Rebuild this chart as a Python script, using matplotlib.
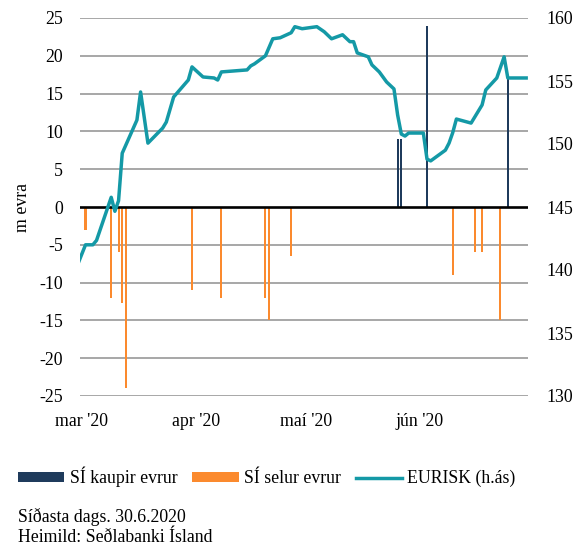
import matplotlib
matplotlib.use("Agg")
import matplotlib.pyplot as plt
import matplotlib.dates as mdates
import pandas as pd
from matplotlib.patches import Patch
from matplotlib.lines import Line2D

# ---- data ----
line_dates = ['2020-02-28', '2020-03-02', '2020-03-04', '2020-03-05', '2020-03-09', '2020-03-10',
              '2020-03-11', '2020-03-12', '2020-03-16', '2020-03-17', '2020-03-19', '2020-03-23',
              '2020-03-24', '2020-03-26', '2020-03-30', '2020-03-31', '2020-04-03', '2020-04-06',
              '2020-04-07', '2020-04-08', '2020-04-15', '2020-04-16', '2020-04-17', '2020-04-20',
              '2020-04-22', '2020-04-24', '2020-04-27', '2020-04-28', '2020-04-30', '2020-05-04',
              '2020-05-06', '2020-05-08', '2020-05-11', '2020-05-13', '2020-05-14', '2020-05-15',
              '2020-05-18', '2020-05-19', '2020-05-21', '2020-05-23', '2020-05-25', '2020-05-26',
              '2020-05-27', '2020-05-28', '2020-05-29', '2020-06-02', '2020-06-03', '2020-06-04',
              '2020-06-08', '2020-06-09', '2020-06-10', '2020-06-11', '2020-06-15', '2020-06-18',
              '2020-06-19', '2020-06-22', '2020-06-24', '2020-06-25', '2020-06-30']
eurisk = [139.8, 142.0, 142.0, 142.35, 145.77, 144.66,
          145.5, 149.27, 151.9, 154.13, 150.07, 151.26,
          151.74, 153.73, 155.08, 156.12, 155.32, 155.24,
          155.08, 155.72, 155.88, 156.2, 156.36, 157.0,
          158.35, 158.43, 158.83, 159.31, 159.15, 159.31,
          158.91, 158.35, 158.67, 158.12, 158.12, 157.23,
          156.92, 156.28, 155.72, 154.92, 154.37, 152.3,
          150.79, 150.63, 150.87, 150.87, 148.8, 148.66,
          149.51, 150.07, 150.9, 151.98, 151.66, 153.1,
          154.29, 155.24, 156.92, 155.24, 155.24]

buy_dates = ['2020-05-26', '2020-05-27', '2020-06-03', '2020-06-25']
buy_values = [9, 9, 24, 17]

sell_dates = ['2020-03-02', '2020-03-09', '2020-03-11', '2020-03-12', '2020-03-13', '2020-03-31',
              '2020-04-08', '2020-04-20', '2020-04-21', '2020-04-27', '2020-06-10', '2020-06-16',
              '2020-06-18', '2020-06-23']
sell_values = [-3, -12, -6, -12.7, -24, -11, -12, -12, -15, -6.5, -9, -6, -6, -15]

month_ticks = ['2020-03-01', '2020-04-01', '2020-05-01', '2020-06-01']
month_labels = ["mar '20", "apr '20", "maí '20", "jún '20"]

left_ticks = list(range(-25, 30, 5))
right_ticks = list(range(130, 165, 5))

legend_labels = ['SÍ kaupir evrur', 'SÍ selur evrur', 'EURISK (h.ás)']
footer_lines = ['Síðasta dags. 30.6.2020', 'Heimild: Seðlabanki Ísland']

# ---- style ----
FONT = 'Liberation Serif'
FS = 12.8
C_BUY = '#1F3B5C'
C_SELL = '#FB8A2E'
C_LINE = '#1499A6'
C_GRID = '#A0A0A0'

plt.rcParams['font.family'] = [FONT, 'DejaVu Serif']
plt.rcParams['font.size'] = FS

W, H = 586, 548
fig = plt.figure(figsize=(W / 100, H / 100), dpi=100)
L, R, T, B = 80, 528, 18, 396
ax = fig.add_axes([L / W, 1 - B / H, (R - L) / W, (B - T) / H])

ld = pd.to_datetime(line_dates)
bd = pd.to_datetime(buy_dates)
sd = pd.to_datetime(sell_dates)

ax.set_ylim(-25, 25)
ax.set_yticks(left_ticks)
for v in left_ticks:
    if v != 0:
        ax.axhline(v, color=C_GRID, lw=1.3, zorder=0)

ax.bar(bd, buy_values, width=0.55, color=C_BUY, zorder=2)
ax.bar(sd, sell_values, width=0.55, color=C_SELL, zorder=2)
ax.axhline(0, color='black', lw=1.9, zorder=3)

x0 = pd.Timestamp('2020-02-29 12:00')
x1 = pd.Timestamp('2020-06-30 12:00')
ax.set_xlim(x0, x1)
ax.set_xticks(pd.to_datetime(month_ticks))
ax.set_xticklabels(month_labels)

for s in ax.spines.values():
    s.set_visible(False)
ax.tick_params(axis='both', length=0, labelsize=FS)
ax.tick_params(axis='y', pad=12)
ax.tick_params(axis='x', pad=12)
ax.set_yticklabels([str(v) for v in left_ticks])
ax.set_ylabel('m evra', fontsize=FS, labelpad=6)

ax2 = ax.twinx()
ax2.plot(ld, eurisk, color=C_LINE, lw=2.5, solid_joinstyle='round', zorder=4)
ax2.set_ylim(130, 160)
ax2.set_yticks(right_ticks)
ax2.set_xlim(x0, x1)
for s in ax2.spines.values():
    s.set_visible(False)
ax2.tick_params(axis='y', length=0, labelsize=FS, pad=13)

handles = [Patch(facecolor=C_BUY, edgecolor='none'),
           Patch(facecolor=C_SELL, edgecolor='none'),
           Line2D([0], [0], color=C_LINE, lw=2.5)]
fig.legend(handles, legend_labels, loc='center left', bbox_to_anchor=(18 / W, 1 - 477 / H),
           ncol=3, frameon=False, fontsize=FS, handlelength=2.6, handleheight=0.5,
           handletextpad=0.3, columnspacing=0.85, borderaxespad=0, borderpad=0)

fig.text(18 / W, 1 - 517 / H, footer_lines[0], ha='left', va='center', fontsize=FS)
fig.text(18 / W, 1 - 538 / H, footer_lines[1], ha='left', va='center', fontsize=FS)

fig.savefig('out.png', dpi=100)
